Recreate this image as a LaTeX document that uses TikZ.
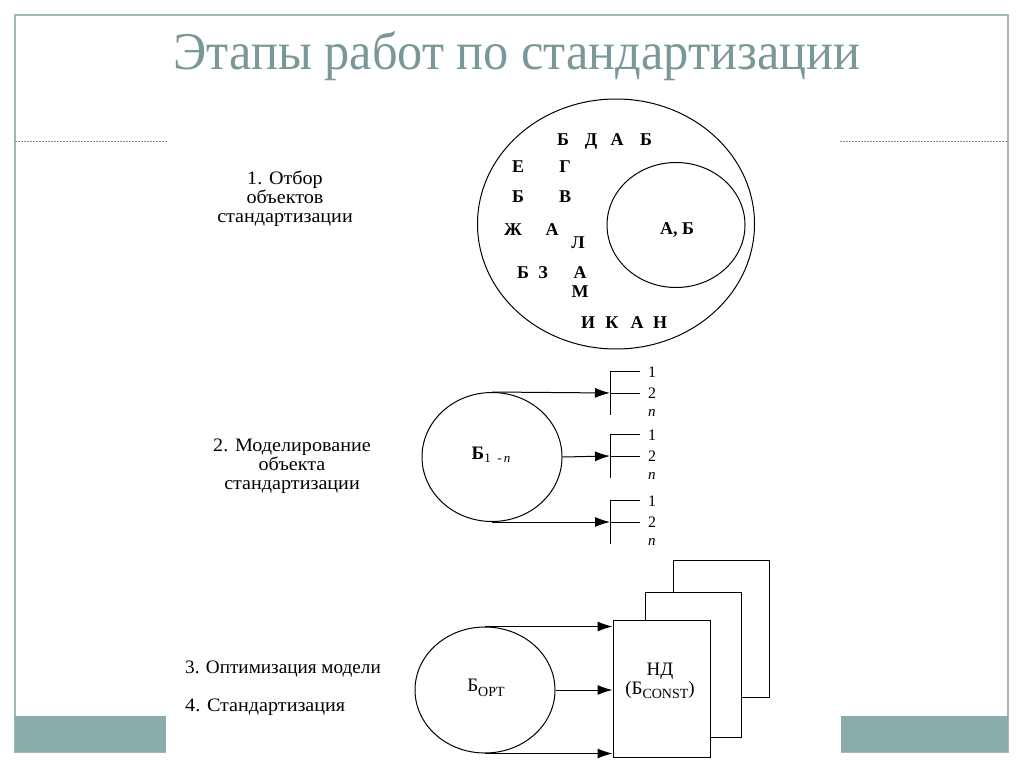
\documentclass[tikz,border=0pt]{standalone}
\usepackage{fontspec}
\setmainfont{Liberation Serif}
\newfontfamily\titlefont[FakeStretch=0.95]{Liberation Serif}
\newfontfamily\scanfont[FakeStretch=1.06]{Liberation Serif}
\newfontfamily\stagethree[FakeStretch=1.01]{Liberation Serif}
\usetikzlibrary{shapes.geometric,arrows.meta,calc}
\definecolor{titlecol}{RGB}{122,152,152}
\definecolor{framecol}{RGB}{160,184,184}
\definecolor{bandcol}{RGB}{138,172,171}
\definecolor{dashcol}{RGB}{130,140,140}
\begin{document}
\begin{tikzpicture}[x=1pt,y=-1pt,
  ell/.style={ellipse, draw, line width=1pt, inner sep=0pt},
  letter/.style={font=\fontsize{18}{18}\selectfont\bfseries, inner sep=0pt, anchor=base},
  stage/.style={font=\scanfont\fontsize{19}{19}\selectfont, align=center, inner sep=0pt},
  stagel/.style={font=\stagethree\fontsize{19}{19}\selectfont, inner sep=0pt, anchor=west},
  num/.style={font=\fontsize{16}{16}\selectfont, inner sep=0pt, anchor=west},
  arr/.style={line width=1pt, -{Latex[length=15pt,width=10pt]}},
  ln/.style={line width=1pt},
  page/.style={draw, fill=white, line width=1pt, inner sep=0pt}]
\useasboundingbox (0,0) rectangle (1024,767);
\fill[white] (0,0) rectangle (1024,767);
% slide frame
\draw[framecol, line width=1.5pt] (15,15) rectangle (1008,752);
\fill[bandcol] (15,716) rectangle (1008,752);
\draw[dashcol, line width=0.5pt, dash pattern=on 2pt off 1pt] (15,141) -- (167,141);
\draw[dashcol, line width=0.5pt, dash pattern=on 2pt off 1pt] (840,141) -- (1008,141);
\fill[white] (166,142) rectangle (841,767);
% title
\node[titlecol, font=\titlefont\fontsize{53}{53}\selectfont, inner sep=0pt, anchor=base] (title) at (517,70) {Этапы работ по стандартизации};

% ---------- stage 1 ----------
\node[stage] (s1) at (285,199) {1. Отбор\\объектов\\стандартизации};
\node[ell, minimum width=277pt, minimum height=250pt] (outer) at (616,224) {};
\node[ell, minimum width=138pt, minimum height=125pt] (inner) at (676,225) {};
\node[letter] (a1) at (563,146) {Б};
\node[letter] (a2) at (591,146) {Д};
\node[letter] (a3) at (617,146) {А};
\node[letter] (a4) at (646,146) {Б};
\node[letter] (a5) at (518,173) {Е};
\node[letter] (a6) at (565,173) {Г};
\node[letter] (a7) at (518,203) {Б};
\node[letter] (a8) at (565,203) {В};
\node[letter] (a9) at (513,236) {Ж};
\node[letter] (a10) at (552,236) {А};
\node[letter] (a11) at (578,248) {Л};
\node[letter] (a12) at (523,278) {Б};
\node[letter] (a13) at (543,278) {З};
\node[letter] (a14) at (580,278) {А};
\node[letter] (a15) at (580,297) {М};
\node[letter] (a16) at (588,328) {И};
\node[letter] (a17) at (612,328) {К};
\node[letter] (a18) at (637,328) {А};
\node[letter] (a19) at (660,328) {Н};
\node[letter] (ab) at (677,234) {А, Б};

% ---------- stage 2 ----------
\node[stage] (s2) at (292,466) {2. Моделирование\\объекта\\стандартизации};
\node[ell, minimum width=140pt, minimum height=129pt] (c2) at (492,457) {};
\node[font=\fontsize{19}{19}\selectfont\bfseries, inner sep=0pt] (b2) at (491,455)
  {Б\raisebox{-0.4ex}{\fontsize{13}{13}\selectfont\mdseries 1\,\,\,-\,\textit{n}}};
\coordinate (k1) at (610,393);
\coordinate (k2) at (610,456);
\coordinate (k3) at (610,522);
\draw[arr] (c2.north) -- (k1);
\draw[arr] (c2.east) -- (k2);
\draw[arr] (c2.south) -- (k3);
\foreach \k/\y in {k1/393,k2/456,k3/522}{
  \draw[ln] (\k) -- ++(30,0);
  \draw[ln] (640,\y-22) -- (610,\y-22) -- (610,\y+22);
  \node[num] at (648,\y-21) {1};
  \node[num] at (648,\y) {2};
  \node[num, font=\fontsize{15}{15}\selectfont\itshape] at (648,\y+20) {n};
}

% ---------- stage 3 ----------
\node[stagel] (s3) at (185,669) {3. Оптимизация модели};
\node[stagel, font=\scanfont\fontsize{19}{19}\selectfont] (s4) at (185,707) {4. Стандартизация};
\node[ell, minimum width=140pt, minimum height=126pt] (c3) at (485,690) {};
\node[font=\fontsize{19}{19}\selectfont, inner sep=0pt] (bo) at (486,688)
  {Б\raisebox{-0.5ex}{\fontsize{14}{14}\selectfont OPT}};
\node[page, minimum width=96pt, minimum height=137pt] (p3) at (721,628.5) {};
\node[page, minimum width=96pt, minimum height=145pt] (p2) at (693,664.5) {};
\node[page, minimum width=97pt, minimum height=137pt] (p1) at (661.5,688.5) {};
\node[font=\fontsize{19}{19}\selectfont, align=center, inner sep=0pt] (nd) at (660,681)
  {НД\\(Б\raisebox{-0.5ex}{\fontsize{14}{14}\selectfont CONST})};
\draw[arr] (c3.north) -- (c3.north -| p1.west);
\draw[arr] (c3.east) -- (c3.east -| p1.west);
\draw[arr] (c3.south) -- (c3.south -| p1.west);
\end{tikzpicture}
\end{document}
